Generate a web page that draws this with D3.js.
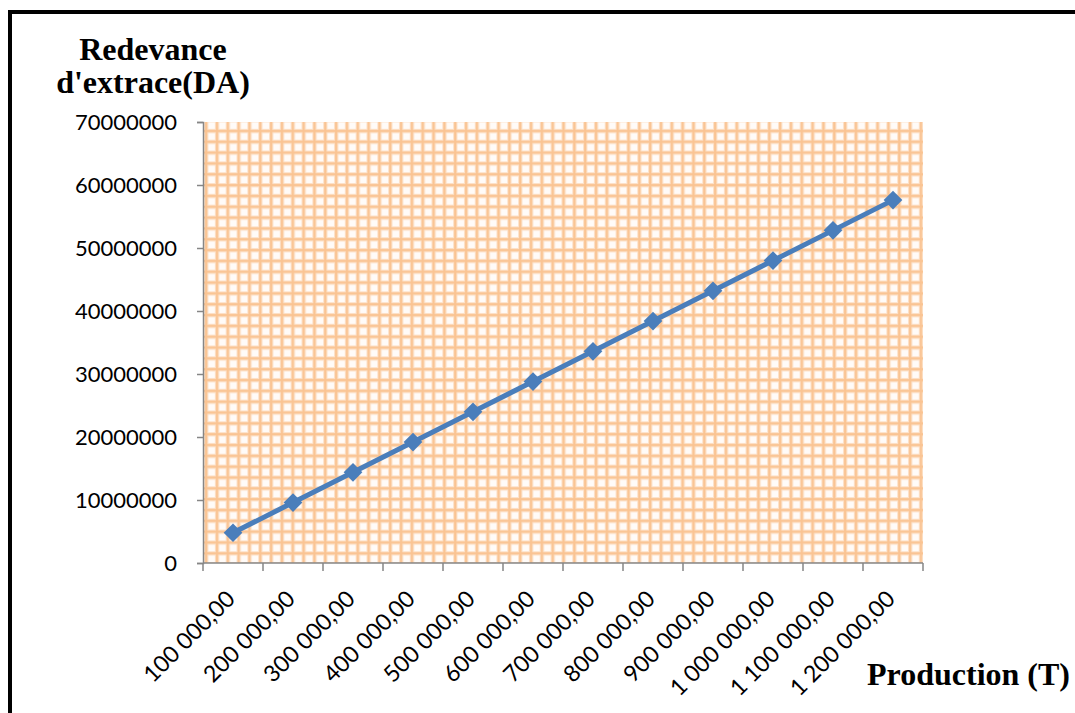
<!DOCTYPE html>
<html>
<head>
<meta charset="utf-8">
<script src="https://cdnjs.cloudflare.com/ajax/libs/d3/7.8.5/d3.min.js"></script>
<style>
  html, body { margin: 0; padding: 0; background: #fff; }
  svg { display: block; }
</style>
</head>
<body>
<svg id="chart" width="1075" height="713"></svg>
<script>
// Production tonnages (categories) and extraction royalty (DA)
const categories = ["100 000,00", "200 000,00", "300 000,00", "400 000,00", "500 000,00", "600 000,00",
                    "700 000,00", "800 000,00", "900 000,00", "1 000 000,00", "1 100 000,00", "1 200 000,00"];
const royalties = [4800000, 9600000, 14400000, 19200000, 24000000, 28800000,
                   33600000, 38400000, 43200000, 48000000, 52800000, 57600000];
const yTicks = [0, 10000000, 20000000, 30000000, 40000000, 50000000, 60000000, 70000000];

const svg = d3.select("#chart");
const W = 1075, H = 713;
const plot = { left: 203, top: 122, right: 923, bottom: 563 };

// Outer frame (runs off the right and bottom edges)
svg.append("rect")
  .attr("x", 10).attr("y", 12)
  .attr("width", W + 20).attr("height", H + 20)
  .attr("fill", "none").attr("stroke", "#000").attr("stroke-width", 4);

// Grid pattern fill for the plot area
const defs = svg.append("defs");
const cell = 10.83;
const pat = defs.append("pattern")
  .attr("id", "grid").attr("patternUnits", "userSpaceOnUse")
  .attr("x", plot.left + 1).attr("y", plot.top - 4)
  .attr("width", cell).attr("height", cell);
pat.append("rect").attr("width", cell).attr("height", cell).attr("fill", "#fffbf8");
pat.append("rect").attr("x", 0).attr("y", 0).attr("width", 4.4).attr("height", cell).attr("fill", "#fde2ca");
pat.append("rect").attr("x", 0).attr("y", 0).attr("width", cell).attr("height", 4.4).attr("fill", "#fde2ca");
pat.append("rect").attr("x", 1.1).attr("y", 0).attr("width", 2.2).attr("height", cell).attr("fill", "#fac493");
pat.append("rect").attr("x", 0).attr("y", 1.1).attr("width", cell).attr("height", 2.2).attr("fill", "#fac493");

svg.append("rect")
  .attr("x", plot.left).attr("y", plot.top)
  .attr("width", plot.right - plot.left).attr("height", plot.bottom - plot.top)
  .attr("fill", "url(#grid)");

// Scales
const x = d3.scaleBand().domain(categories).range([plot.left, plot.right]).padding(0);
const y = d3.scaleLinear().domain([0, 70000000]).range([plot.bottom, plot.top]);

const axisColor = "#868686";
const labelFont = "Lato, 'Open Sans', sans-serif";

// Y axis
const yAxis = svg.append("g")
  .attr("transform", `translate(${plot.left},0)`)
  .call(d3.axisLeft(y).tickValues(yTicks).tickFormat(d3.format("d")).tickSize(6).tickPadding(20));
yAxis.select(".domain").attr("stroke", axisColor).attr("stroke-width", 1.5);
yAxis.selectAll(".tick line").attr("stroke", axisColor).attr("stroke-width", 1.5);
yAxis.selectAll(".tick text")
  .attr("fill", "#000").style("font-family", labelFont).style("font-size", "22px");

// X axis: ticks at category boundaries
const xAxisG = svg.append("g").attr("transform", `translate(0,${plot.bottom})`);
xAxisG.append("line")
  .attr("x1", plot.left).attr("x2", plot.right)
  .attr("stroke", axisColor).attr("stroke-width", 1.5);
const boundaries = categories.map(c => x(c)).concat([x(categories[categories.length - 1]) + x.bandwidth()]);
xAxisG.selectAll("line.tick").data(boundaries).join("line")
  .attr("class", "tick")
  .attr("x1", d => d).attr("x2", d => d)
  .attr("y1", 0).attr("y2", 8)
  .attr("stroke", axisColor).attr("stroke-width", 1.5);

xAxisG.selectAll("text.cat").data(categories).join("text")
  .attr("class", "cat")
  .attr("transform", d => `translate(${x(d) + x.bandwidth() / 2 - 8},${26}) rotate(-45)`)
  .attr("text-anchor", "end")
  .attr("dy", "0.7em")
  .style("font-family", labelFont).style("font-size", "23px")
  .attr("fill", "#000")
  .text(d => d);

// Series line and diamond markers
const blue = "#4a7ebb";
const line = d3.line()
  .x((d, i) => x(categories[i]) + x.bandwidth() / 2)
  .y(d => y(d));
svg.append("path")
  .datum(royalties)
  .attr("d", line)
  .attr("fill", "none")
  .attr("stroke", blue)
  .attr("stroke-width", 5)
  .attr("stroke-linejoin", "round");

svg.selectAll("path.marker").data(royalties).join("path")
  .attr("class", "marker")
  .attr("d", d3.symbol(d3.symbolSquare, 175)())
  .attr("transform", (d, i) => `translate(${x(categories[i]) + x.bandwidth() / 2},${y(d)}) rotate(45)`)
  .attr("fill", blue);

// Axis titles
const titleFont = "'Liberation Serif', 'Times New Roman', serif";
const yTitle = svg.append("text")
  .attr("text-anchor", "middle")
  .style("font-family", titleFont).style("font-weight", "bold").style("font-size", "32px")
  .attr("fill", "#000");
yTitle.append("tspan").attr("x", 153).attr("y", 60).text("Redevance");
yTitle.append("tspan").attr("x", 153).attr("y", 93).text("d'extrace(DA)");

svg.append("text")
  .attr("x", 1070).attr("y", 685)
  .attr("text-anchor", "end")
  .style("font-family", titleFont).style("font-weight", "bold").style("font-size", "32px")
  .attr("fill", "#000")
  .text("Production (T)");
</script>
</body>
</html>
